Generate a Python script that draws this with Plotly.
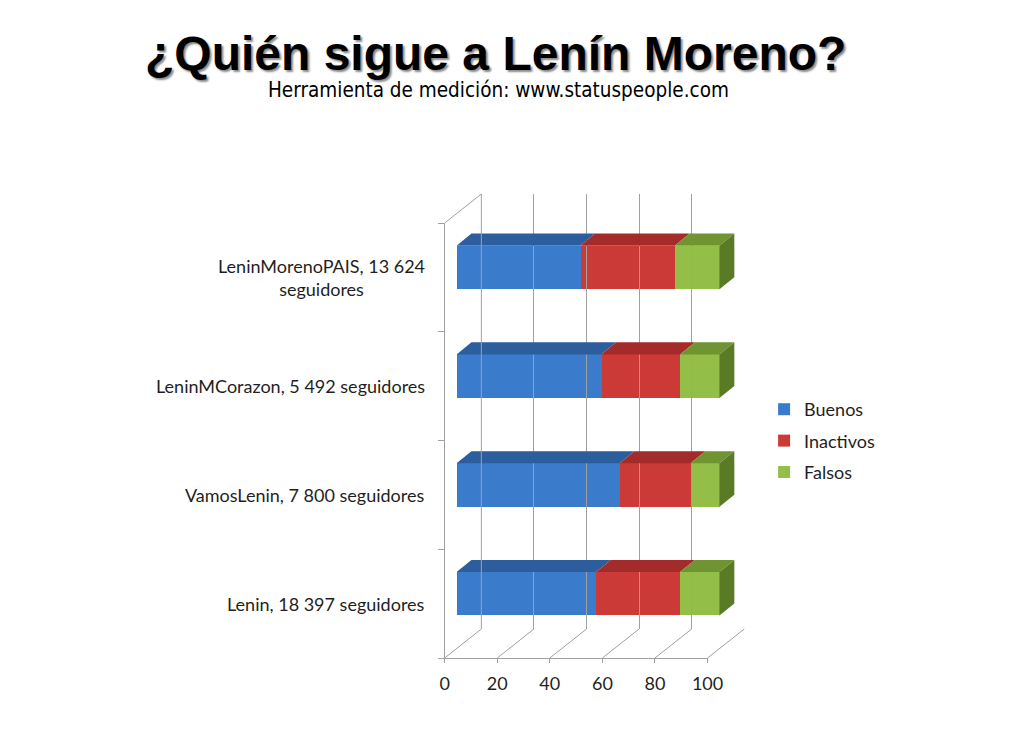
import plotly.graph_objects as go

# --- datos (porcentajes) ---
cuentas = ["Lenin, 18 397 seguidores", "VamosLenin, 7 800 seguidores",
           "LeninMCorazon, 5 492 seguidores", "LeninMorenoPAIS, 13 624<br>seguidores"]
buenos = [53, 62, 55, 47]
inactivos = [32, 27, 30, 36]
falsos = [15, 11, 15, 17]
series = ["Buenos", "Inactivos", "Falsos"]
x_ticks = [0, 20, 40, 60, 80, 100]

# colores: frente, cara superior, lateral
FRONT = ["#3b7bcb", "#cb3a37", "#93bf49"]
TOP = ["#2c5e9e", "#a32c2a", "#6f9431"]
SIDE = "#5a7b26"
GRID = "#a0a0a0"
TEXT = "#1f1f1f"

# la pagina tiene 8px de margen en el body -> figura de 1008x732
OFF = 8
SX = 0.987          # correccion horizontal medida en la captura
W, H = 1024 - 2 * OFF, 748 - 2 * OFF
def px(x): return (x / SX - OFF) / W
def py(y): return 1 - (y - OFF) / H

# geometria en pixeles de la "caja" 3D
FX0, FX1, FYT, FYB = 443, 708, 223, 658      # plano frontal
BDX, BDY = 37, 29                             # desplazamiento al fondo
SCALE = (FX1 - FX0) / 100.0
BAR_DX, BAR_DY = 12, 10                       # barras a media profundidad
DEP_X, DEP_Y = 15, 12                         # profundidad de la barra
XMAX = 110
band = (FYB - FYT) / 4.0

fig = go.Figure()

vals = [buenos, inactivos, falsos]
for name, v, c in zip(series, vals, FRONT):
    fig.add_trace(go.Bar(
        y=list(range(len(cuentas))), x=v, name=name, orientation="h",
        marker=dict(color=c, line=dict(width=0)), width=0.4,
        legendgroup=name, xaxis="x", yaxis="y"))

# caras superiores y lateral (en coordenadas de datos)
dxu = DEP_X / SCALE
dyu = DEP_Y / band
shapes = []
for i in range(len(cuentas)):
    start = 0
    yt = i + 0.2
    yb = i - 0.2
    for k, v in enumerate(vals):
        end = start + v[i]
        shapes.append(dict(
            type="path", xref="x", yref="y", layer="above",
            path=f"M{start},{yt} L{end},{yt} L{end + dxu},{yt + dyu} L{start + dxu},{yt + dyu} Z",
            fillcolor=TOP[k], line=dict(width=0)))
        start = end
    shapes.append(dict(
        type="path", xref="x", yref="y", layer="above",
        path=f"M{start},{yt} L{start + dxu},{yt + dyu} L{start + dxu},{yb + dyu} L{start},{yb} Z",
        fillcolor=SIDE, line=dict(width=0)))

# lineas del piso y pared izquierda
line = dict(color=GRID, width=1)
for t in x_ticks:
    x0 = FX0 + t * SCALE
    shapes.append(dict(type="line", xref="paper", yref="paper",
                       x0=px(x0), y0=py(FYB), x1=px(x0 + BDX), y1=py(FYB - BDY), line=line))
shapes.append(dict(type="line", xref="paper", yref="paper",
                   x0=px(FX0), y0=py(FYT), x1=px(FX0 + BDX), y1=py(FYT - BDY), line=line))
shapes.append(dict(type="line", xref="paper", yref="paper",
                   x0=px(FX0 + BDX), y0=py(FYT - BDY), x1=px(FX0 + BDX), y1=py(FYB - BDY), line=line))

# etiquetas de categorias (centradas, como en Excel)
annotations = []
for i, c in enumerate(cuentas):
    annotations.append(dict(
        text=c, xref="paper", yref="y2", x=px(425), y=i, xanchor="right", yanchor="middle",
        align="center", showarrow=False, font=dict(family="Lato", size=18, color=TEXT)))

annotations.append(dict(
    text="<b>¿Quién sigue a Lenín Moreno?</b>", xref="paper", yref="paper",
    x=px(494), y=py(54), xanchor="center", yanchor="middle", showarrow=False,
    font=dict(family="Liberation Sans", size=48, color="black", shadow="2px 2px 2px #8a8a8a")))
annotations.append(dict(
    text="Herramienta de medición: www.statuspeople.com", xref="paper", yref="paper",
    x=px(497), y=py(90), xanchor="center", yanchor="middle", showarrow=False,
    font=dict(family="Liberation Sans Narrow, DejaVu Sans Condensed", size=20.5, color="black")))

fig.update_layout(
    width=W, height=H, margin=dict(l=0, r=0, t=0, b=0),
    paper_bgcolor="white", plot_bgcolor="rgba(0,0,0,0)",
    barmode="stack", bargap=0,
    shapes=shapes, annotations=annotations,
    # barras
    xaxis=dict(domain=[px(FX0 + BAR_DX), px(FX0 + BAR_DX + SCALE * XMAX)], range=[0, XMAX],
               visible=False, anchor="y"),
    yaxis=dict(domain=[py(FYB - BAR_DY), py(FYT - BAR_DY)], range=[-0.5, 3.5],
               visible=False, anchor="x"),
    # plano frontal: ticks y eje de categorias
    xaxis2=dict(domain=[px(FX0), px(FX1)], range=[0, 100], anchor="y2",
                tickvals=x_ticks, ticks="outside", ticklen=4, tickcolor=GRID,
                showline=True, linecolor=GRID, showgrid=False, zeroline=False,
                ticklabelstandoff=5, tickfont=dict(family="Lato", size=18, color=TEXT)),
    yaxis2=dict(domain=[py(FYB), py(FYT)], range=[-0.5, 3.5], anchor="x2",
                tickvals=[-0.5, 0.5, 1.5, 2.5, 3.5], ticks="outside", ticklen=6,
                tickcolor=GRID, showticklabels=False, showline=True, linecolor=GRID,
                showgrid=False, zeroline=False),
    # pared del fondo: cuadricula
    xaxis3=dict(domain=[px(FX0 + BDX), px(FX1 + BDX)], range=[0, 100], anchor="y3",
                tickvals=x_ticks, showgrid=True, gridcolor=GRID, showticklabels=False,
                zeroline=False, ticks=""),
    yaxis3=dict(domain=[py(FYB - BDY), py(FYT - BDY)], range=[0, 1], anchor="x3",
                visible=False),
    legend=dict(x=px(765), y=py(391), xanchor="left", yanchor="top",
                traceorder="grouped", tracegroupgap=5, itemwidth=30,
                font=dict(family="Lato", size=18, color=TEXT)),
)

# trazas vacias para activar los ejes 2 y 3
fig.add_trace(go.Scatter(x=[None], y=[None], xaxis="x2", yaxis="y2", showlegend=False))
fig.add_trace(go.Scatter(x=[None], y=[None], xaxis="x3", yaxis="y3", showlegend=False))

fig.write_html("out.html")
